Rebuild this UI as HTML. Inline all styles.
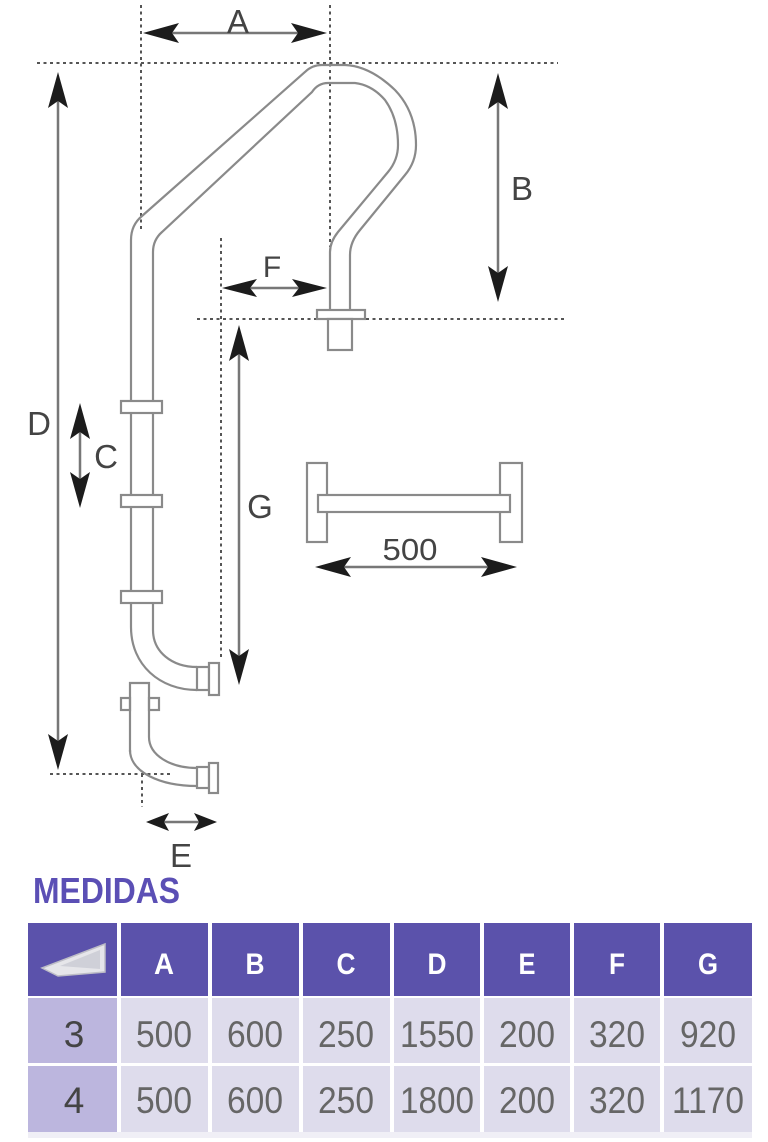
<!DOCTYPE html>
<html>
<head>
<meta charset="utf-8">
<style>
  html,body{margin:0;padding:0;background:#fff;}
  svg{display:block;}
  .lbl{font-family:"Liberation Sans",sans-serif;fill:#444;}
</style>
</head>
<body>
<svg width="768" height="1142" viewBox="0 0 768 1142" xmlns="http://www.w3.org/2000/svg">
  <rect width="768" height="1142" fill="#fff"/>

  <!-- dotted guide lines -->
  <g stroke="#555" stroke-width="2" stroke-dasharray="3 3.5" fill="none">
    <line x1="141" y1="5" x2="141" y2="232"/>
    <line x1="330" y1="5" x2="330" y2="247"/>
    <line x1="37" y1="63" x2="558" y2="63"/>
    <line x1="197" y1="319" x2="567" y2="319"/>
    <line x1="221" y1="238" x2="221" y2="657"/>
    <line x1="50" y1="774" x2="172" y2="774"/>
    <line x1="142" y1="774" x2="142" y2="807"/>
  </g>

  <!-- main tube -->
  <g stroke="#8a8a8a" stroke-width="2.2" fill="none">
    <path d="M131,627 L131,240 Q131,225 142,216 L305,72 Q312,65 322,65 L345,65 Q370,66 395,90 Q416,112 416,145 Q416,162 405,175 L360,230 Q350,242 350,255 L350,310"/>
    <path d="M153,630 L153,252 Q153,240 162,232 L312,92 Q318,83 328,83 L355,83 Q372,85 385,100 Q398,118 398,145 Q398,160 388,172 L338,232 Q330,242 330,252 L330,310"/>
    <path d="M131,627 C131,665 160,690 197,690"/>
    <path d="M153,630 C153,652 172,667 197,667"/>
  </g>
  <g stroke="#8a8a8a" stroke-width="2.2" fill="#fff">
    <rect x="121" y="401" width="41" height="12"/>
    <rect x="121" y="495" width="41" height="12"/>
    <rect x="121" y="591" width="41" height="12"/>
    <rect x="197" y="667" width="12" height="23"/>
    <rect x="209" y="663" width="10" height="32"/>
    <rect x="317" y="310" width="48" height="9"/>
    <rect x="328" y="319" width="24" height="31"/>
    <rect x="121" y="698" width="9" height="12"/>
    <rect x="149" y="698" width="10" height="12"/>
    <rect x="197" y="767" width="12" height="21"/>
    <rect x="209" y="763" width="9" height="30"/>
  </g>
  <g stroke="#8a8a8a" stroke-width="2.2" fill="none">
    <path d="M130,752 L130,683 L149,683 L149,737"/>
    <path d="M130,750 C130,772 160,786 197,786"/>
    <path d="M149,737 C149,755 170,768 197,768"/>
  </g>

  <!-- crossbar figure -->
  <g stroke="#8a8a8a" stroke-width="2.2" fill="#fff">
    <rect x="307" y="463" width="20" height="79"/>
    <rect x="500" y="463" width="22" height="79"/>
    <rect x="318" y="495" width="192" height="17"/>
  </g>

  <!-- arrow shafts -->
  <g stroke="#777" stroke-width="2.5">
    <line x1="150" y1="33" x2="320" y2="33"/>
    <line x1="228" y1="288" x2="320" y2="288"/>
    <line x1="498" y1="80" x2="498" y2="295"/>
    <line x1="58" y1="80" x2="58" y2="762"/>
    <line x1="80" y1="410" x2="80" y2="500"/>
    <line x1="239" y1="332" x2="239" y2="678"/>
    <line x1="322" y1="567" x2="510" y2="567"/>
    <line x1="152" y1="822" x2="211" y2="822"/>
  </g>
  <!-- arrow heads -->
  <g fill="#1c1c1c">
    <path d="M143,33 L179,23 L172,33 L179,43 Z"/>
    <path d="M327,33 L291,23 L298,33 L291,43 Z"/>
    <path d="M222,288 L257,279 L250,288 L257,297 Z"/>
    <path d="M327,288 L292,279 L299,288 L292,297 Z"/>
    <path d="M498,73 L488,109 L498,102 L508,109 Z"/>
    <path d="M498,302 L488,266 L498,273 L508,266 Z"/>
    <path d="M58,72 L48,108 L58,101 L68,108 Z"/>
    <path d="M58,770 L48,734 L58,741 L68,734 Z"/>
    <path d="M80,403 L70,439 L80,432 L90,439 Z"/>
    <path d="M80,508 L70,472 L80,479 L90,472 Z"/>
    <path d="M239,325 L229,361 L239,354 L249,361 Z"/>
    <path d="M239,685 L229,649 L239,656 L249,649 Z"/>
    <path d="M315,567 L351,557 L344,567 L351,577 Z"/>
    <path d="M517,567 L481,557 L488,567 L481,577 Z"/>
    <path d="M146,822 L169,813 L164,822 L169,831 Z"/>
    <path d="M217,822 L194,813 L199,822 L194,831 Z"/>
  </g>

  <!-- dimension labels -->
  <g class="lbl" font-size="33" text-anchor="middle">
    <text x="238" y="33">A</text>
    <text x="522" y="200">B</text>
    <text x="272" y="277" font-size="30">F</text>
    <text x="39" y="435">D</text>
    <text x="106" y="468">C</text>
    <text x="260" y="518">G</text>
    <text x="181" y="867">E</text>
    <text x="410" y="560" font-size="31" textLength="55" lengthAdjust="spacingAndGlyphs">500</text>
  </g>

  <!-- MEDIDAS -->
  <text x="33" y="903" font-family="Liberation Sans, sans-serif" font-weight="bold" font-size="36" fill="#5b4fb5" textLength="147" lengthAdjust="spacingAndGlyphs">MEDIDAS</text>

  <!-- table -->
  <g>
    <g fill="#5b52ab">
      <rect x="28" y="923" width="89" height="73"/>
      <rect x="121" y="923" width="87" height="73"/>
      <rect x="212" y="923" width="87" height="73"/>
      <rect x="303" y="923" width="87" height="73"/>
      <rect x="394" y="923" width="86" height="73"/>
      <rect x="484" y="923" width="86" height="73"/>
      <rect x="574" y="923" width="86" height="73"/>
      <rect x="664" y="923" width="88" height="73"/>
    </g>
    <g fill="#bcb6de">
      <rect x="28" y="998" width="89" height="65"/>
      <rect x="28" y="1066" width="89" height="66"/>
    </g>
    <g fill="#dedcec">
      <rect x="121" y="998" width="87" height="65"/>
      <rect x="212" y="998" width="87" height="65"/>
      <rect x="303" y="998" width="87" height="65"/>
      <rect x="394" y="998" width="86" height="65"/>
      <rect x="484" y="998" width="86" height="65"/>
      <rect x="574" y="998" width="86" height="65"/>
      <rect x="664" y="998" width="88" height="65"/>
      <rect x="121" y="1066" width="87" height="66"/>
      <rect x="212" y="1066" width="87" height="66"/>
      <rect x="303" y="1066" width="87" height="66"/>
      <rect x="394" y="1066" width="86" height="66"/>
      <rect x="484" y="1066" width="86" height="66"/>
      <rect x="574" y="1066" width="86" height="66"/>
      <rect x="664" y="1066" width="88" height="66"/>
    </g>
    <rect x="28" y="1132" width="724" height="6" fill="#f0eff6"/>
    <!-- icon -->
    <polygon points="42,968 105,944 105,972 58,976" fill="#e6e6ea" stroke="#bdbdc6" stroke-width="1.5"/>
    <polygon points="60,966 100,950 100,969" fill="#cfd0d8"/>

    <g font-family="Liberation Sans, sans-serif" font-weight="bold" font-size="30" fill="#fff" text-anchor="middle">
      <text x="164" y="974" textLength="20" lengthAdjust="spacingAndGlyphs">A</text>
      <text x="255" y="974" textLength="19" lengthAdjust="spacingAndGlyphs">B</text>
      <text x="346" y="974" textLength="19" lengthAdjust="spacingAndGlyphs">C</text>
      <text x="437" y="974" textLength="19" lengthAdjust="spacingAndGlyphs">D</text>
      <text x="527" y="974" textLength="17" lengthAdjust="spacingAndGlyphs">E</text>
      <text x="617" y="974" textLength="16" lengthAdjust="spacingAndGlyphs">F</text>
      <text x="708" y="974" textLength="20" lengthAdjust="spacingAndGlyphs">G</text>
    </g>
    <g font-family="Liberation Sans, sans-serif" font-size="37" fill="#666" text-anchor="middle">
      <text x="74" y="1047" fill="#444">3</text>
      <text x="164" y="1047" textLength="56" lengthAdjust="spacingAndGlyphs">500</text>
      <text x="255" y="1047" textLength="56" lengthAdjust="spacingAndGlyphs">600</text>
      <text x="346" y="1047" textLength="56" lengthAdjust="spacingAndGlyphs">250</text>
      <text x="437" y="1047" textLength="74" lengthAdjust="spacingAndGlyphs">1550</text>
      <text x="527" y="1047" textLength="56" lengthAdjust="spacingAndGlyphs">200</text>
      <text x="617" y="1047" textLength="56" lengthAdjust="spacingAndGlyphs">320</text>
      <text x="708" y="1047" textLength="56" lengthAdjust="spacingAndGlyphs">920</text>
      <text x="74" y="1113" fill="#444">4</text>
      <text x="164" y="1113" textLength="56" lengthAdjust="spacingAndGlyphs">500</text>
      <text x="255" y="1113" textLength="56" lengthAdjust="spacingAndGlyphs">600</text>
      <text x="346" y="1113" textLength="56" lengthAdjust="spacingAndGlyphs">250</text>
      <text x="437" y="1113" textLength="74" lengthAdjust="spacingAndGlyphs">1800</text>
      <text x="527" y="1113" textLength="56" lengthAdjust="spacingAndGlyphs">200</text>
      <text x="617" y="1113" textLength="56" lengthAdjust="spacingAndGlyphs">320</text>
      <text x="708" y="1113" textLength="72" lengthAdjust="spacingAndGlyphs">1170</text>
    </g>
  </g>
</svg>
</body>
</html>
